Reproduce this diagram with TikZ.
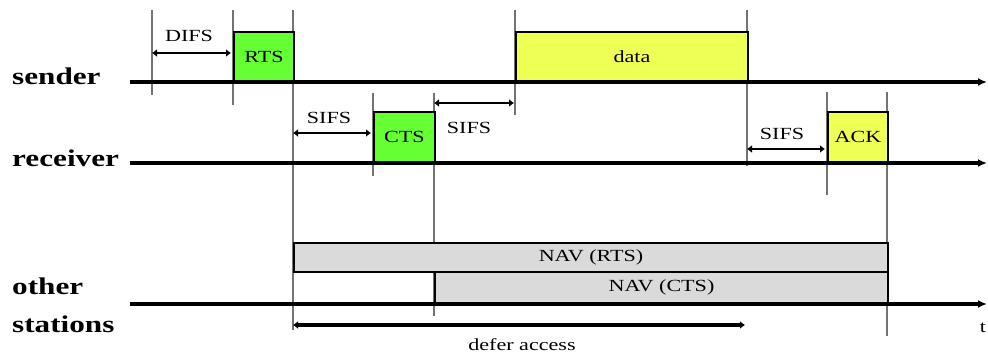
\documentclass[tikz,border=0pt]{standalone}
\usepackage{fontspec}
\setmainfont[FakeStretch=1.3]{Liberation Serif}
\usetikzlibrary{arrows.meta}
\definecolor{pktgreen}{HTML}{66FF33}
\definecolor{pktyellow}{HTML}{EEFF55}
\definecolor{navgray}{HTML}{DADADA}
\begin{document}
\begin{tikzpicture}[x=1pt,y=-1pt,
  timeline/.style={line width=3.4pt,-{Latex[length=9pt,width=8pt]}},
  vbar/.style={line width=2.4pt,draw=black!55},
  dim/.style={line width=2.6pt,{Latex[length=5pt,width=8pt]}-{Latex[length=5pt,width=8pt]}},
  deferarrow/.style={line width=3.6pt,{Latex[length=5pt,width=8pt]}-{Latex[length=5pt,width=8pt]}},
  pkt/.style={draw=black,line width=2pt,inner sep=0pt,anchor=south west,font=\fontsize{17}{17}\selectfont},
  nav/.style={draw=black,fill=navgray,line width=2pt,inner sep=0pt,anchor=south west,font=\fontsize{17}{17}\selectfont},
  rowlabel/.style={anchor=west,inner sep=0pt,font=\fontsize{24}{24}\selectfont\bfseries},
  smalltext/.style={inner sep=0pt,font=\fontsize{17}{17}\selectfont}
]
\useasboundingbox (0,0) rectangle (988,356);

% timeline coordinates
\coordinate (s0) at (130,82);  \coordinate (s1) at (987,82);
\coordinate (r0) at (130,163); \coordinate (r1) at (987,163);
\coordinate (o0) at (130,304); \coordinate (o1) at (987,304);

% vertical bars
\coordinate (v1a) at (152,10);  \coordinate (v1b) at (152,95);
\coordinate (v2a) at (233,10);  \coordinate (v2b) at (233,105);
\coordinate (v3a) at (293,10);  \coordinate (v3b) at (293,330);
\coordinate (v4a) at (373,93);  \coordinate (v4b) at (373,176);
\coordinate (v5a) at (434,93);  \coordinate (v5b) at (434,316);
\coordinate (v6a) at (515,10);  \coordinate (v6b) at (515,115);
\coordinate (v7a) at (747,10);  \coordinate (v7b) at (747,166);
\coordinate (v8a) at (827,92);  \coordinate (v8b) at (827,195);
\coordinate (v9a) at (887,92);  \coordinate (v9b) at (887,336);
\foreach \v in {1,...,9} \draw[vbar] (v\v a) -- (v\v b);

% timelines
\draw[timeline] (s0) -- (s1);
\draw[timeline] (r0) -- (r1);
\draw[timeline] (o0) -- (o1);

% packets
\node[pkt,fill=pktgreen,minimum width=60pt,minimum height=49pt] (rts) at (233,82) {RTS};
\node[pkt,fill=pktyellow,minimum width=232pt,minimum height=49pt] (data) at (515,82) {data};
\node[pkt,fill=pktgreen,minimum width=61pt,minimum height=50pt] (cts) at (373,163) {CTS};
\node[pkt,fill=pktyellow,minimum width=60pt,minimum height=50pt] (ack) at (827,163) {ACK};

% NAV
\node[nav,minimum width=594pt,minimum height=29pt] (navrts) at (293,273) {NAV (RTS)};
\node[nav,minimum width=453pt,minimum height=31pt] (navcts) at (434,304) {NAV (CTS)};

% interval arrows
\coordinate (d1a) at (152,53);  \coordinate (d1b) at (231,53);
\coordinate (d2a) at (293,133); \coordinate (d2b) at (371,133);
\coordinate (d3a) at (434,103); \coordinate (d3b) at (514,103);
\coordinate (d4a) at (747,149); \coordinate (d4b) at (825,149);
\coordinate (dfa) at (293,325); \coordinate (dfb) at (745,325);
\draw[dim] (d1a) -- (d1b);
\draw[dim] (d2a) -- (d2b);
\draw[dim] (d3a) -- (d3b);
\draw[dim] (d4a) -- (d4b);
\draw[deferarrow] (dfa) -- (dfb);

% labels
\node[smalltext] (difs) at (189,36) {DIFS};
\node[smalltext] (sifs1) at (329,118) {SIFS};
\node[smalltext] (sifs2) at (469,128) {SIFS};
\node[smalltext] (sifs3) at (782,134) {SIFS};
\node[smalltext] (defer) at (522,345) {defer access};
\node[smalltext] (t) at (983,328) {t};

\node[rowlabel] (sender) at (12,76) {sender};
\node[rowlabel] (receiver) at (12,158) {receiver};
\node[rowlabel] (other) at (12,286) {other};
\node[rowlabel] (stations) at (12,324) {stations};
\end{tikzpicture}
\end{document}
